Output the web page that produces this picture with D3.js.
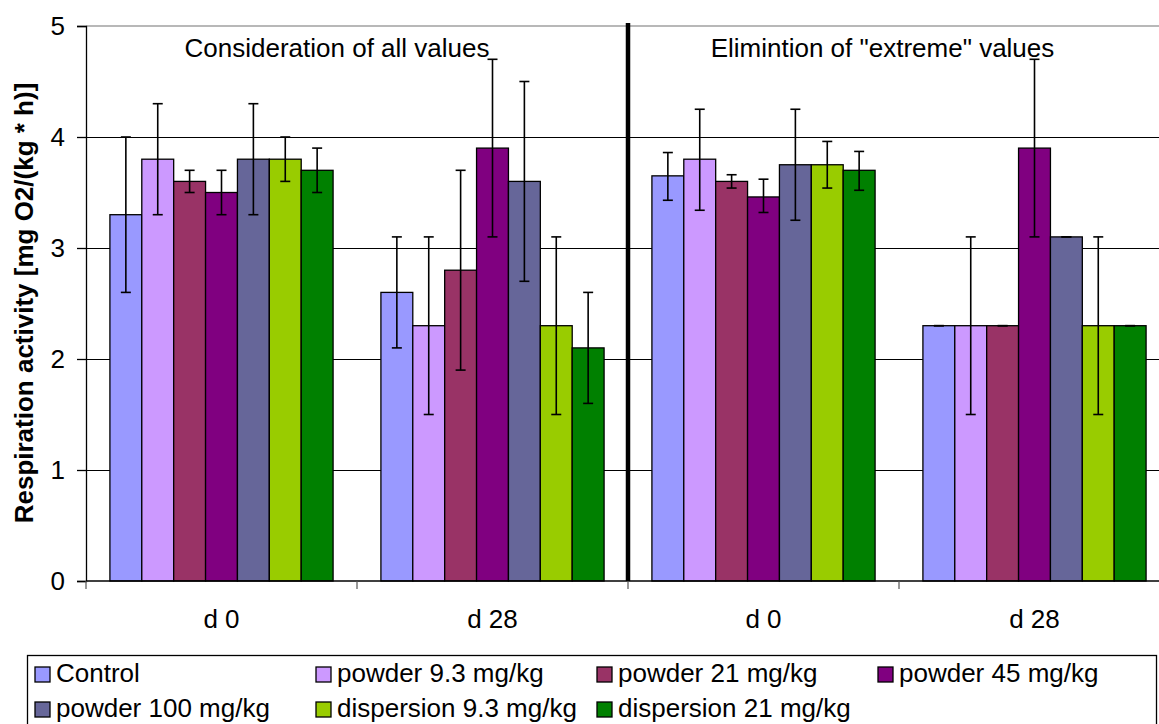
<!DOCTYPE html>
<html>
<head>
<meta charset="utf-8">
<script src="https://cdn.jsdelivr.net/npm/d3@7"></script>
<style>
  html, body { margin: 0; padding: 0; background: #fff; }
  svg { display: block; font-family: 'Liberation Sans', Arial, sans-serif; }
</style>
</head>
<body>
<div id="js_chart"></div>
<script>
// Respiration activity, grouped bars with error bars

const categories = ['d 0', 'd 28', 'd 0', 'd 28']
const seriesNames = ['Control', 'powder 9.3 mg/kg', 'powder 21 mg/kg', 'powder 45 mg/kg',
  'powder 100 mg/kg', 'dispersion 9.3 mg/kg', 'dispersion 21 mg/kg']
const seriesColors = ['#9999ff', '#cc99ff', '#993366', '#800080', '#666699', '#99cc00', '#008000']

// mean value per series, one entry per category
const means = [
  [3.3, 2.6, 3.65, 2.3],
  [3.8, 2.3, 3.8, 2.3],
  [3.6, 2.8, 3.6, 2.3],
  [3.5, 3.9, 3.46, 3.9],
  [3.8, 3.6, 3.75, 3.1],
  [3.8, 2.3, 3.75, 2.3],
  [3.7, 2.1, 3.7, 2.3]
]
// lower / upper end of the error bars
const errLow = [
  [2.6, 2.1, 3.43, 2.3],
  [3.3, 1.5, 3.34, 1.5],
  [3.5, 1.9, 3.54, 2.3],
  [3.3, 3.1, 3.32, 3.1],
  [3.3, 2.7, 3.25, 3.1],
  [3.6, 1.5, 3.54, 1.5],
  [3.5, 1.6, 3.52, 2.3]
]
const errHigh = [
  [4.0, 3.1, 3.86, 2.3],
  [4.3, 3.1, 4.25, 3.1],
  [3.7, 3.7, 3.66, 2.3],
  [3.7, 4.7, 3.62, 4.7],
  [4.3, 4.5, 4.25, 3.1],
  [4.0, 3.1, 3.96, 3.1],
  [3.9, 2.6, 3.87, 2.3]
]
const yTicks = [0, 1, 2, 3, 4, 5]
const panelTitles = ['Consideration of all values', 'Elimintion of "extreme" values']

const width = 1159
const height = 724
const plotLeft = 86
const plotTop = 26
const plotBottom = 581
const catWidth = 271
const fontSize = 26

const svg = d3.select('#js_chart').append('svg')
  .attr('width', width).attr('height', height)

const x0 = d3.scaleBand()
  .domain(d3.range(categories.length))
  .range([plotLeft, plotLeft + catWidth * categories.length])
  .padding(0)

const x1 = d3.scaleBand()
  .domain(d3.range(seriesNames.length))
  .range([0, x0.bandwidth()])
  .paddingInner(0)
  .paddingOuter(0.75)

const y = d3.scaleLinear().domain([0, 5]).range([plotBottom, plotTop])

// top border of plot area
svg.append('line')
  .attr('x1', plotLeft).attr('x2', width)
  .attr('y1', y(5)).attr('y2', y(5))
  .attr('stroke', '#a0a0a0').attr('stroke-width', 1.3)

// gridlines
svg.append('g')
  .selectAll('line')
  .data(yTicks.filter(d => d > 0 && d < 5))
  .join('line')
  .attr('x1', plotLeft).attr('x2', x0.range()[1])
  .attr('y1', d => Math.round(y(d)) + 0.5).attr('y2', d => Math.round(y(d)) + 0.5)
  .attr('stroke', '#000').attr('stroke-width', 1)

// bars
const groups = svg.append('g')
  .selectAll('g')
  .data(categories.map((c, i) => i))
  .join('g')
  .attr('transform', i => 'translate(' + x0(i) + ',0)')

groups.selectAll('rect')
  .data(i => seriesNames.map((s, k) => ({ k: k, v: means[k][i] })))
  .join('rect')
  .attr('x', d => x1(d.k))
  .attr('y', d => y(d.v))
  .attr('width', x1.bandwidth())
  .attr('height', d => y(0) - y(d.v))
  .attr('fill', d => seriesColors[d.k])
  .attr('stroke', '#000').attr('stroke-width', 1.3)

// error bars
const errs = groups.selectAll('g.err')
  .data(i => seriesNames.map((s, k) => ({ k: k, lo: errLow[k][i], hi: errHigh[k][i] })))
  .join('g').classed('err', true)
  .attr('transform', d => 'translate(' + (x1(d.k) + x1.bandwidth() / 2) + ',0)')
  .attr('stroke', '#000').attr('stroke-width', 1.6)

errs.append('line')
  .attr('y1', d => y(d.lo)).attr('y2', d => y(d.hi))
errs.append('line')
  .attr('x1', -5).attr('x2', 5)
  .attr('y1', d => y(d.hi)).attr('y2', d => y(d.hi))
errs.append('line')
  .attr('x1', -5).attr('x2', 5)
  .attr('y1', d => y(d.lo)).attr('y2', d => y(d.lo))

// y axis
const yAxis = svg.append('g')
  .attr('transform', 'translate(' + plotLeft + ',0)')
  .call(d3.axisLeft(y).tickValues(yTicks).tickSize(9).tickPadding(12).tickFormat(d3.format('d')))
yAxis.select('.domain').attr('stroke', '#000').attr('stroke-width', 1.3)
yAxis.selectAll('.tick line').attr('stroke', '#000').attr('stroke-width', 1.3)
yAxis.selectAll('.tick text')
  .attr('font-size', fontSize).attr('fill', '#000')
  .attr('font-family', "'Liberation Sans', Arial, sans-serif")

// x axis: ticks sit between categories
const xAxis = svg.append('g')
  .attr('transform', 'translate(0,' + plotBottom + ')')
xAxis.append('line')
  .attr('x1', plotLeft).attr('x2', x0.range()[1])
  .attr('stroke', '#000').attr('stroke-width', 1.3)
xAxis.selectAll('line.tick')
  .data(d3.range(categories.length + 1))
  .join('line').classed('tick', true)
  .attr('x1', i => plotLeft + catWidth * i).attr('x2', i => plotLeft + catWidth * i)
  .attr('y1', 0).attr('y2', 8)
  .attr('stroke', '#555').attr('stroke-width', 1.2)
xAxis.selectAll('text')
  .data(categories)
  .join('text')
  .attr('x', (d, i) => x0(i) + x0.bandwidth() / 2)
  .attr('y', 47)
  .attr('text-anchor', 'middle')
  .attr('font-size', fontSize)
  .text(d => d)

// separator between the two panels
svg.append('line')
  .attr('x1', x0(2)).attr('x2', x0(2))
  .attr('y1', 23).attr('y2', plotBottom)
  .attr('stroke', '#000').attr('stroke-width', 4.5)

// panel titles
svg.selectAll('text.panel')
  .data(panelTitles)
  .join('text').classed('panel', true)
  .attr('x', (d, i) => [337, 882.5][i])
  .attr('y', 57)
  .attr('text-anchor', 'middle')
  .attr('font-size', fontSize)
  .text(d => d)

// y axis title
svg.append('text')
  .attr('transform', 'translate(33,' + 303 + ') rotate(-90)')
  .attr('text-anchor', 'middle')
  .attr('font-size', fontSize)
  .attr('font-weight', 'bold')
  .text('Respiration activity [mg O2/(kg * h)]')

// legend
const legend = svg.append('g')
legend.append('rect')
  .attr('x', 27.5).attr('y', 655.5)
  .attr('width', 1129).attr('height', 100)
  .attr('fill', '#fff').attr('stroke', '#000').attr('stroke-width', 1.3)

const legendItems = legend.selectAll('g.item')
  .data(seriesNames)
  .join('g').classed('item', true)
  .attr('transform', (d, i) => 'translate(' + (35 + (i % 4) * 281) + ',' + (682 + Math.floor(i / 4) * 35) + ')')

legendItems.append('rect')
  .attr('x', 0).attr('y', -15)
  .attr('width', 15).attr('height', 15)
  .attr('fill', (d, i) => seriesColors[i])
  .attr('stroke', '#000').attr('stroke-width', 1.3)

legendItems.append('text')
  .attr('x', 21).attr('y', 0)
  .attr('font-size', fontSize)
  .text(d => d)
</script>
</body>
</html>
